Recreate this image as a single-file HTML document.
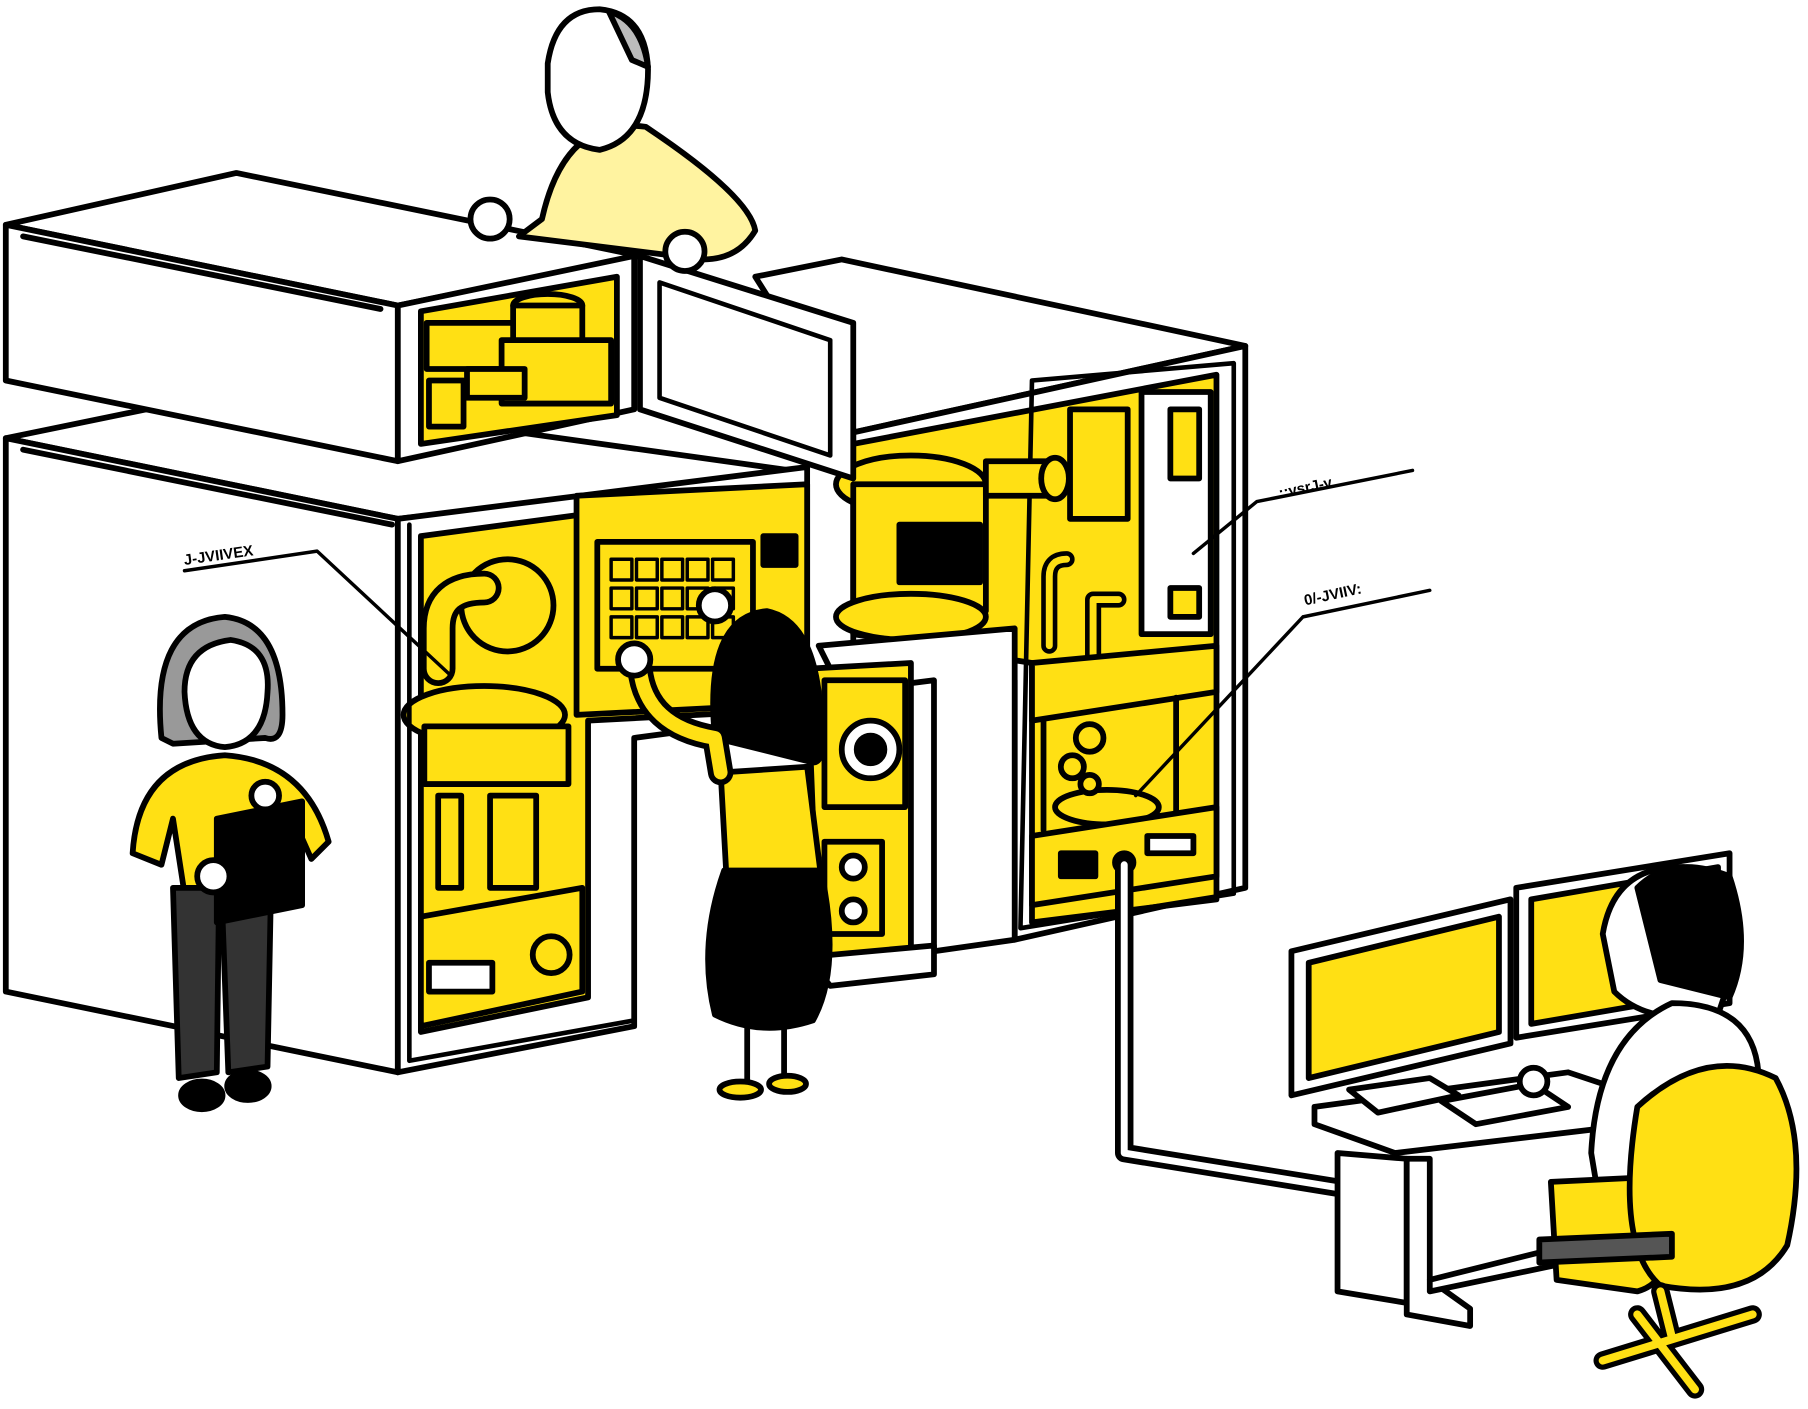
<!DOCTYPE html>
<html><head><meta charset="utf-8"><style>
html,body{margin:0;padding:0;background:#fff;}
svg{display:block}
text{font-family:"Liberation Sans",sans-serif;font-weight:bold;font-size:13px;fill:#000}
</style></head><body>
<svg width="1808" height="1409" viewBox="0 0 1568 1222" xmlns="http://www.w3.org/2000/svg">
<g stroke="#000" stroke-width="5" stroke-linejoin="round" stroke-linecap="round">
<!-- right tall block -->
<polygon points="655,240 730,225 1080,300 740,375" fill="#fff"/>
<polygon points="740,375 1080,300 1080,770 880,815 880,590 740,560" fill="#fff"/>
<polygon points="740,385 1055,325 1055,780 895,800 895,575 740,550" fill="#FFE014"/>
<polygon points="895,330 1070,315 1070,775 885,805" fill="none" stroke-width="4"/>
<rect x="990" y="340" width="60" height="210" fill="#fff"/>
<rect x="1015" y="355" width="25" height="60" fill="#FFE014"/>
<rect x="1015" y="510" width="25" height="25" fill="#FFE014"/>
<rect x="928" y="355" width="50" height="95" fill="#FFE014"/>
<ellipse cx="790" cy="420" rx="65" ry="25" fill="#FFE014"/>
<rect x="740" y="420" width="115" height="110" fill="#FFE014"/>
<rect x="780" y="455" width="70" height="50" fill="#000"/>
<ellipse cx="790" cy="535" rx="65" ry="20" fill="#FFE014"/>
<rect x="855" y="400" width="60" height="30" fill="#FFE014"/>
<ellipse cx="915" cy="415" rx="12" ry="18" fill="#FFE014"/>
<path d="M910,560 L910,500 Q910,485 925,485" fill="none" stroke-width="14"/>
<path d="M910,560 L910,500 Q910,485 925,485" fill="none" stroke="#FFE014" stroke-width="6"/>
<path d="M948,575 L948,520 L970,520" fill="none" stroke-width="14"/>
<path d="M948,575 L948,520 L970,520" fill="none" stroke="#FFE014" stroke-width="6"/>
<polygon points="895,575 1055,560 1055,600 895,625" fill="#FFE014"/>
<ellipse cx="960" cy="700" rx="45" ry="15" fill="#FFE014"/>
<circle cx="945" cy="640" r="12" fill="#FFE014"/><circle cx="930" cy="665" r="10" fill="#FFE014"/><circle cx="945" cy="680" r="8" fill="#FFE014"/>
<line x1="905" y1="625" x2="905" y2="720"/><line x1="1020" y1="605" x2="1020" y2="705"/>
<polygon points="895,725 1055,700 1055,760 895,785" fill="#FFE014"/>
<rect x="920" y="740" width="30" height="20" fill="#000"/>
<rect x="995" y="725" width="40" height="15" fill="#fff"/>
<circle cx="975" cy="748" r="8" fill="#fff"/>
<!-- middle lower block -->
<polygon points="710,560 880,545 880,815 810,825 810,590 730,600" fill="#fff"/>
<polygon points="700,580 790,575 790,825 710,835" fill="#FFE014"/>
<rect x="715" y="590" width="70" height="110" fill="#FFE014"/>
<circle cx="755" cy="650" r="25" fill="#fff"/><circle cx="755" cy="650" r="12" fill="#000"/>
<rect x="715" y="730" width="50" height="80" fill="#FFE014"/>
<circle cx="740" cy="752" r="10" fill="#fff"/><circle cx="740" cy="790" r="10" fill="#fff"/>
<polygon points="700,830 810,820 810,845 720,855" fill="#fff"/>
<!-- left main block -->
<polygon points="5,380 200,340 700,410 345,450" fill="#fff"/>
<polygon points="5,380 345,450 345,930 5,860" fill="#fff"/>
<polygon points="345,450 700,405 700,620 550,640 550,890 345,930" fill="#fff"/>
<polygon points="365,465 700,420 700,615 510,625 510,865 365,895" fill="#FFE014"/>
<polygon points="500,430 700,420 700,610 500,620" fill="#FFE014"/>
<rect x="518" y="470" width="135" height="110" fill="#FFE014"/>
<g stroke-width="3" fill="#FFE014">
<rect x="530" y="485" width="18" height="18"/><rect x="552" y="485" width="18" height="18"/><rect x="574" y="485" width="18" height="18"/><rect x="596" y="485" width="18" height="18"/><rect x="618" y="485" width="18" height="18"/>
<rect x="530" y="510" width="18" height="18"/><rect x="552" y="510" width="18" height="18"/><rect x="574" y="510" width="18" height="18"/><rect x="596" y="510" width="18" height="18"/><rect x="618" y="510" width="18" height="18"/>
<rect x="530" y="535" width="18" height="18"/><rect x="552" y="535" width="18" height="18"/><rect x="574" y="535" width="18" height="18"/><rect x="596" y="535" width="18" height="18"/><rect x="618" y="535" width="18" height="18"/>
</g>
<rect x="662" y="465" width="28" height="25" fill="#000"/>
<circle cx="440" cy="525" r="40" fill="#FFE014"/>
<path d="M380,580 L380,545 Q380,510 420,510" fill="none" stroke-width="30"/>
<path d="M380,580 L380,545 Q380,510 420,510" fill="none" stroke="#FFE014" stroke-width="20"/>
<ellipse cx="420" cy="620" rx="70" ry="25" fill="#FFE014"/>
<rect x="368" y="630" width="125" height="50" fill="#FFE014"/>
<rect x="380" y="690" width="20" height="80" fill="#FFE014"/><rect x="425" y="690" width="40" height="80" fill="#FFE014"/>
<polygon points="365,795 505,770 505,860 365,890" fill="#FFE014"/>
<rect x="372" y="835" width="55" height="25" fill="#fff"/>
<circle cx="478" cy="828" r="16" fill="#FFE014"/>
<polyline points="355,455 355,920 550,885" fill="none" stroke-width="4"/>
<line x1="20" y1="390" x2="340" y2="455"/>
<!-- top box -->
<polygon points="5,195 205,150 555,222 345,265" fill="#fff"/>
<polygon points="5,195 345,265 345,400 5,330" fill="#fff"/>
<polygon points="345,265 550,222 550,355 345,400" fill="#fff"/>
<polygon points="365,270 535,240 535,360 365,385" fill="#FFE014"/>
<rect x="370" y="280" width="80" height="40" fill="#FFE014"/>
<ellipse cx="475" cy="265" rx="30" ry="10" fill="#FFE014"/>
<rect x="445" y="265" width="60" height="40" fill="#FFE014"/>
<rect x="435" y="295" width="95" height="55" fill="#FFE014"/>
<rect x="405" y="320" width="50" height="25" fill="#FFE014"/>
<rect x="372" y="330" width="30" height="40" fill="#FFE014"/>
<line x1="20" y1="205" x2="330" y2="268"/>
<!-- door -->
<polygon points="555,222 740,280 740,415 555,355" fill="#fff"/>
<polygon points="572,245 720,295 720,395 572,345" fill="#fff" stroke-width="4"/>
<!-- top man -->
<path d="M470,190 Q490,100 560,110 Q650,170 655,200 Q640,225 610,225 L450,205 Z" fill="#FFF3A0"/>
<path d="M475,55 Q482,8 520,8 Q560,12 562,60 Q562,120 520,130 Q480,125 475,80 Z" fill="#fff"/>
<path d="M528,10 Q556,18 562,58 L548,52 Z" fill="#bbb"/>
<circle cx="425" cy="190" r="17" fill="#fff"/><circle cx="594" cy="218" r="17" fill="#fff"/>
<!-- left woman -->
<path d="M140,640 Q130,540 195,535 Q245,540 245,620 Q245,645 230,640 L150,645 Z" fill="#999"/>
<path d="M160,600 Q160,560 200,555 Q235,560 232,600 Q230,645 195,648 Q162,645 160,600 Z" fill="#fff"/>
<path d="M115,740 Q120,660 195,655 Q265,660 285,730 L270,745 L250,700 L245,770 L160,775 L150,710 L140,750 Z" fill="#FFE014"/>
<polygon points="150,770 190,770 188,930 155,935" fill="#333"/>
<polygon points="192,770 235,770 232,925 198,930" fill="#333"/>
<ellipse cx="175" cy="950" rx="18" ry="12" fill="#000"/><ellipse cx="215" cy="942" rx="18" ry="12" fill="#000"/>
<polygon points="188,710 262,695 262,785 188,800" fill="#000"/>
<circle cx="185" cy="760" r="14" fill="#fff"/><circle cx="230" cy="690" r="12" fill="#fff"/>
<!-- middle woman -->
<path d="M620,640 Q610,535 665,530 Q715,540 712,650 Q712,665 700,660 Z" fill="#000"/>
<path d="M625,670 L700,665 L712,760 L630,760 Z" fill="#FFE014"/>
<path d="M555,580 Q560,630 620,640 L625,670" fill="none" stroke-width="22"/>
<path d="M555,580 Q560,630 620,640 L625,670" fill="none" stroke="#FFE014" stroke-width="12"/>
<path d="M628,755 L712,755 Q730,840 705,885 Q660,900 620,880 Q605,820 628,755 Z" fill="#000"/>
<line x1="648" y1="890" x2="648" y2="940"/><line x1="680" y1="890" x2="680" y2="940"/>
<ellipse cx="642" cy="945" rx="18" ry="7" fill="#FFE014"/><ellipse cx="683" cy="940" rx="16" ry="7" fill="#FFE014"/>
<circle cx="550" cy="572" r="14" fill="#fff"/><circle cx="620" cy="525" r="14" fill="#fff"/>
<!-- cable -->
<path d="M975,750 L975,1000 L1160,1030" fill="none" stroke-width="16"/>
<path d="M975,750 L975,1000 L1160,1030" fill="none" stroke="#fff" stroke-width="6"/>
<!-- desk -->
<polygon points="1140,960 1360,930 1420,950 1420,975 1210,1000 1140,975" fill="#fff"/>
<polygon points="1160,1000 1220,1005 1220,1130 1160,1120" fill="#fff"/>
<polygon points="1220,1005 1240,1005 1240,1110 1275,1135 1275,1150 1220,1140" fill="#fff"/>
<polygon points="1240,1110 1360,1080 1360,1095 1240,1120" fill="#fff"/>
<!-- monitors -->
<polygon points="1120,825 1310,780 1310,905 1120,950" fill="#fff"/>
<polygon points="1135,835 1300,795 1300,895 1135,935" fill="#FFE014"/>
<polygon points="1315,770 1500,740 1500,870 1315,900" fill="#fff"/>
<polygon points="1328,780 1490,752 1490,860 1328,888" fill="#FFE014"/>
<polygon points="1170,945 1240,935 1265,950 1195,965" fill="#fff"/>
<polygon points="1250,955 1330,940 1360,960 1280,975" fill="#fff"/>
<!-- seated man -->
<path d="M1390,810 Q1400,750 1460,752 Q1510,765 1505,835 L1490,880 Q1430,890 1400,860 Z" fill="#fff"/>
<path d="M1420,770 Q1450,740 1500,760 Q1520,820 1500,865 L1440,850 Z" fill="#000"/>
<path d="M1380,1000 Q1385,900 1450,870 Q1520,870 1525,930 L1520,1050 L1390,1060 Z" fill="#fff"/>
<path d="M1345,1025 L1450,1020 Q1460,1110 1420,1120 L1350,1110 Z" fill="#FFE014"/>
<path d="M1420,960 Q1480,905 1540,935 Q1570,990 1550,1080 Q1520,1130 1440,1115 Q1400,1080 1420,960 Z" fill="#FFE014"/>
<path d="M1335,1075 L1450,1070 L1450,1090 L1335,1095 Z" fill="#555"/>
<path d="M1440,1120 L1450,1160 M1390,1180 L1520,1140 M1420,1140 L1470,1205" stroke-width="16" fill="none"/>
<path d="M1440,1120 L1450,1160 M1390,1180 L1520,1140 M1420,1140 L1470,1205" stroke="#FFE014" stroke-width="7" fill="none"/>
<circle cx="1330" cy="938" r="12" fill="#fff"/>
<!-- callout lines -->
<polyline points="160,495 275,478 390,585" fill="none" stroke-width="3"/>
<polyline points="1035,480 1090,435 1225,408" fill="none" stroke-width="3"/>
<polyline points="985,690 1130,535 1240,512" fill="none" stroke-width="3"/>
</g>
<text x="160" y="490" transform="rotate(-8 160 490)">J-JVIIVEX</text>
<text x="1110" y="432" transform="rotate(-12 1110 432)">::vsrJ-v</text>
<text x="1132" y="525" transform="rotate(-12 1132 525)">0/-JVIIV:</text>
</svg>
</body></html>
